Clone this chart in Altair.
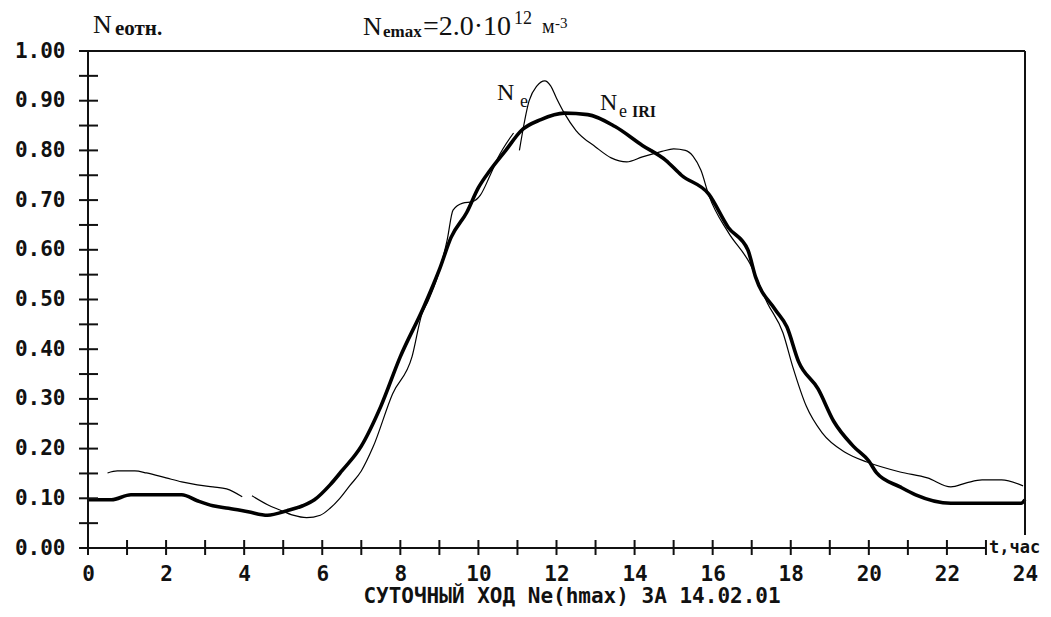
import altair as alt
import pandas as pd

# ---- data ----
IRI_H = [0, 0.6, 1.1, 1.6, 2.4, 2.8, 3.2, 3.6, 4.1, 4.6, 5.1, 5.5, 5.8, 6.2, 6.5,
         7.0, 7.5, 8.0, 8.6, 9.0, 9.3, 9.7, 10.0, 10.3, 10.7, 11.1, 11.6, 12.2,
         12.8, 13.5, 14.2, 14.8, 15.2, 15.9, 16.4, 16.9, 17.1, 17.6, 17.9, 18.2,
         18.7, 19.1, 19.6, 20.0, 20.2, 20.8, 21.2, 22.1, 23.0, 23.9, 24.0]
IRI_V = [0.097, 0.097, 0.107, 0.107, 0.107, 0.095, 0.085, 0.080, 0.073, 0.066,
         0.075, 0.085, 0.097, 0.127, 0.155, 0.205, 0.285, 0.385, 0.485, 0.560,
         0.625, 0.675, 0.725, 0.760, 0.800, 0.840, 0.862, 0.875, 0.872, 0.848,
         0.810, 0.780, 0.750, 0.712, 0.645, 0.600, 0.545, 0.480, 0.445, 0.375,
         0.320, 0.255, 0.205, 0.175, 0.151, 0.123, 0.107, 0.090, 0.090, 0.090, 0.097]

NE_H1 = [0.5, 0.75, 1.2, 1.5, 2.0, 2.4, 2.8, 3.2, 3.55, 3.95]
NE_V1 = [0.151, 0.155, 0.155, 0.151, 0.141, 0.133, 0.127, 0.123, 0.119, 0.103]

NE_H2 = [4.2, 4.6, 4.9, 5.25, 5.6, 5.95, 6.2, 6.45, 6.7, 7.0, 7.3, 7.8, 8.3,
         8.55, 8.7, 8.95, 9.2, 9.35, 9.6, 9.85, 10.05, 10.3, 10.5, 10.9]
NE_V2 = [0.105, 0.087, 0.077, 0.066, 0.061, 0.066, 0.080, 0.100, 0.125, 0.155,
         0.203, 0.310, 0.385, 0.470, 0.495, 0.545, 0.620, 0.680, 0.694, 0.697,
         0.710, 0.750, 0.785, 0.835]

NE_H3 = [11.05, 11.3, 11.5, 11.7, 11.85, 12.0, 12.2, 12.5, 13.0, 13.4, 13.8,
         14.2, 14.7, 15.0, 15.3, 15.5, 15.7, 15.9, 16.4, 16.95, 17.4, 17.8, 18.05,
         18.4, 18.8, 19.4, 19.95, 20.8, 21.5, 22.1, 22.5, 22.9, 23.4, 23.95]
NE_V3 = [0.800, 0.900, 0.930, 0.940, 0.930, 0.905, 0.875, 0.840, 0.807, 0.785,
         0.777, 0.787, 0.798, 0.803, 0.800, 0.788, 0.760, 0.710, 0.635, 0.573,
         0.493, 0.433, 0.365, 0.285, 0.232, 0.192, 0.173, 0.153, 0.141, 0.123,
         0.131, 0.137, 0.137, 0.125]

X_TICKS = [0, 1, 2, 3, 4, 5, 6, 7, 8, 9, 10, 11, 12, 13, 14, 15, 16, 17, 18,
           19, 20, 21, 22, 23]
X_LABELS = [0, 2, 4, 6, 8, 10, 12, 14, 16, 18, 20, 22, 24]
Y_TICKS = [0.0, 0.05, 0.1, 0.15, 0.2, 0.25, 0.3, 0.35, 0.4, 0.45, 0.5, 0.55,
           0.6, 0.65, 0.7, 0.75, 0.8, 0.85, 0.9, 0.95, 1.0]
Y_LABELS = [0.0, 0.1, 0.2, 0.3, 0.4, 0.5, 0.6, 0.7, 0.8, 0.9, 1.0]

FRAME_X1 = [0, 0, 0, 24]
FRAME_X2 = [0, 23, 24, 24]
FRAME_Y1 = [0, 0, 1, 0.026]
FRAME_Y2 = [1, 0, 1, 1]

TITLE = "СУТОЧНЫЙ ХОД Ne(hmax) ЗА 14.02.01"
X_UNIT = "t,час"

# ---- tables ----
iri = pd.DataFrame({"h": IRI_H, "v": IRI_V})
ne = pd.concat([
    pd.DataFrame({"h": NE_H1, "v": NE_V1, "seg": "a"}),
    pd.DataFrame({"h": NE_H2, "v": NE_V2, "seg": "b"}),
    pd.DataFrame({"h": NE_H3, "v": NE_V3, "seg": "c"}),
])
frame = pd.DataFrame({"h": FRAME_X1, "h2": FRAME_X2, "v": FRAME_Y1, "v2": FRAME_Y2})
yt = pd.DataFrame({"v": Y_TICKS})
xt = pd.DataFrame({"h": X_TICKS})

W, H = 937, 497
INK = "#111111"
MONO = "DejaVu Sans Mono"
SERIF = "Liberation Serif"
LBL = 21

xs = alt.Scale(domain=[0, 24], nice=False, zero=False)
ys = alt.Scale(domain=[0, 1], nice=False, zero=False)

x_axis = alt.Axis(values=X_LABELS, format="d", ticks=False, domain=False, grid=False,
                  tickSize=0, labelFont=MONO, labelFontWeight="bold", labelFontSize=LBL,
                  labelColor=INK, labelPadding=15, labelFlush=False, labelOverlap=False,
                  labelBound=False, title=None)
y_axis = alt.Axis(values=Y_LABELS, format=".2f", ticks=False, domain=False, grid=False,
                  tickSize=0, labelFont=MONO, labelFontWeight="bold", labelFontSize=LBL,
                  labelColor=INK, labelPadding=23, labelOverlap=False, labelBound=False,
                  title=None)

X = alt.X("h:Q", scale=xs, axis=x_axis)
Y = alt.Y("v:Q", scale=ys, axis=y_axis)

iri_line = alt.Chart(iri).mark_line(color="#000", strokeWidth=3.6, interpolate="monotone").encode(
    x=X, y=Y,
)
ne_line = alt.Chart(ne).mark_line(color="#000", strokeWidth=1.2, interpolate="monotone").encode(
    x=X, y=Y, detail="seg:N",
)

frame_rules = alt.Chart(frame).mark_rule(color=INK, strokeWidth=2).encode(
    x=X, x2="h2:Q", y=Y, y2="v2:Q",
)
ytick = alt.Chart(yt).mark_rule(color=INK, strokeWidth=2).encode(
    y=Y, x=alt.value(-9), x2=alt.value(10)
)
xtick = alt.Chart(xt).mark_rule(color=INK, strokeWidth=2).encode(
    x=X, y=alt.value(H - 8), y2=alt.value(H + 7)
)


def txt(s, x, y, size, font=SERIF, weight="normal", align="left", baseline="alphabetic"):
    return alt.Chart(pd.DataFrame({"s": [s]})).mark_text(
        align=align, baseline=baseline, font=font, fontSize=size,
        fontWeight=weight, color=INK,
    ).encode(text="s:N", x=alt.value(x), y=alt.value(y))


texts = [
    # y-axis heading  N_eотн.
    txt("N", 5, -18, 26),
    txt("eотн.", 27, -16, 21, weight="bold"),
    # N_emax = 2.0·10^12 м^-3
    txt("N", 275, -16, 26),
    txt("emax", 295, -14, 17, weight="bold"),
    txt("=2.0·10", 335, -16, 28),
    txt("12", 426, -27, 18),
    txt("м", 454, -18, 20),
    txt("-3", 467, -23, 15),
    # curve labels
    txt("N", 409, 49, 24),
    txt("e", 432, 56, 18),
    txt("N", 512, 59, 24),
    txt("e", 531, 66, 18),
    txt("IRI", 544, 66, 16, weight="bold"),
    # axis unit and bottom title
    txt(X_UNIT, 901, H, 17, font=MONO, weight="bold", baseline="middle"),
    txt(TITLE, 484, H + 49, LBL, font=MONO, weight="bold", align="center", baseline="middle"),
]

chart = alt.layer(iri_line, ne_line, frame_rules, ytick, xtick, *texts).properties(
    width=W, height=H,
    autosize=alt.AutoSizeParams(type="none"),
    padding={"left": 80, "top": 43, "right": 18, "bottom": 61},
    background="white",
).configure_view(strokeWidth=0)

chart.save("out.html", embed_options={"renderer": "svg", "actions": False})
